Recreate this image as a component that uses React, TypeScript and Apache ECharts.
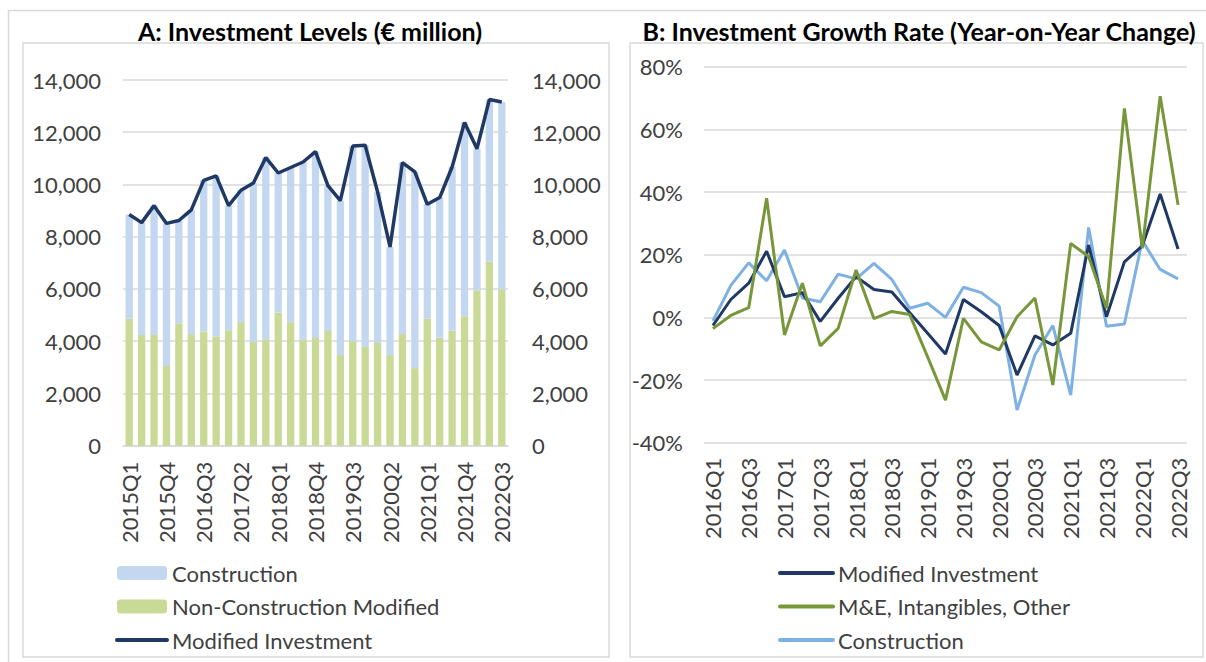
import React, { useEffect, useRef } from "react";
import * as echarts from "echarts";

const quartersA = [
  "2015Q1", "2015Q2", "2015Q3", "2015Q4",
  "2016Q1", "2016Q2", "2016Q3", "2016Q4",
  "2017Q1", "2017Q2", "2017Q3", "2017Q4",
  "2018Q1", "2018Q2", "2018Q3", "2018Q4",
  "2019Q1", "2019Q2", "2019Q3", "2019Q4",
  "2020Q1", "2020Q2", "2020Q3", "2020Q4",
  "2021Q1", "2021Q2", "2021Q3", "2021Q4",
  "2022Q1", "2022Q2", "2022Q3",
];

// € million
const nonConstruction = [
  4860, 4240, 4240, 3050, 4680, 4270, 4370, 4190, 4420, 4730, 3970, 4070,
  5100, 4730, 4040, 4120, 4390, 3470, 4000, 3790, 3930, 3470, 4280, 2970,
  4860, 4130, 4400, 4960, 5950, 7050, 5980,
];
const construction = [
  3990, 4300, 4950, 5460, 3940, 4760, 5790, 6140, 4770, 5050, 6090, 6960,
  5340, 5920, 6820, 7140, 5570, 5910, 7470, 7710, 5780, 4140, 6560, 7510,
  4380, 5370, 6270, 7410, 5420, 6200, 7180,
];
const modifiedInvestment = [
  8850, 8540, 9190, 8510, 8620, 9030, 10160, 10330, 9190, 9780, 10060, 11030,
  10440, 10650, 10860, 11260, 9960, 9380, 11470, 11500, 9710, 7610, 10840, 10480,
  9240, 9500, 10670, 12370, 11370, 13250, 13160,
];

const quartersB = [
  "2016Q1", "2016Q2", "2016Q3", "2016Q4",
  "2017Q1", "2017Q2", "2017Q3", "2017Q4",
  "2018Q1", "2018Q2", "2018Q3", "2018Q4",
  "2019Q1", "2019Q2", "2019Q3", "2019Q4",
  "2020Q1", "2020Q2", "2020Q3", "2020Q4",
  "2021Q1", "2021Q2", "2021Q3", "2021Q4",
  "2022Q1", "2022Q2", "2022Q3",
];

// % year-on-year
const modifiedGrowth = [
  -2.6, 5.7, 10.9, 21.1, 6.6, 7.9, -1.3, 6.1, 13.0, 8.9, 8.1, 1.5, -5.1, -11.7,
  5.7, 1.8, -2.6, -18.4, -5.9, -8.8, -5.1, 23.1, 0.2, 17.7, 22.8, 39.4, 21.8,
];
const meGrowth = [
  -3.6, 0.6, 3.1, 38.0, -5.6, 10.9, -9.1, -3.5, 15.1, -0.4, 1.9, 0.9, -12.6, -26.4,
  -0.3, -7.8, -10.4, 0.2, 6.2, -21.6, 23.6, 19.4, 2.9, 66.7, 22.0, 70.6, 35.9,
];
const constructionGrowth = [
  -1.1, 10.2, 17.4, 11.7, 21.5, 6.2, 5.0, 13.8, 12.3, 17.2, 12.1, 2.9, 4.5, 0.0,
  9.6, 7.9, 3.6, -29.6, -12.0, -2.6, -24.8, 28.7, -2.8, -2.1, 24.5, 15.3, 12.3,
];

const yTicksA = [0, 14000, 2000];
const yTicksB = [-40, 80, 20];

const FONT = "Lato";
const TEXT = "#404040";
const GRID = "#D9D9D9";
const NAVY = "#1F3864";
const OLIVE = "#77973A";
const LBLUE = "#7DB1E4";
const BAR_BLUE = "#C3D8F0";
const BAR_GREEN = "#C9DA96";
const FS = 22;

const fmtThousands = (v: number) => v.toLocaleString("en-US");
const noSymbol = { color: "rgba(0,0,0,0)", borderWidth: 0, borderColor: "rgba(0,0,0,0)" };

export default function App() {
  const ref = useRef<HTMLDivElement>(null);

  useEffect(() => {
    if (!ref.current) return;
    const chart = echarts.init(ref.current, null, { renderer: "svg" });

    const axisLabelBase = { color: TEXT, fontFamily: FONT, fontSize: FS };
    const legendText = { color: TEXT, fontFamily: FONT, fontSize: FS, lineHeight: 22 };

    const option: any = {
      animation: false,
      textStyle: { fontFamily: FONT },
      graphic: [
        {
          type: "polyline",
          shape: { points: [[8.5, 662], [8.5, 10.5], [1206, 10.5]] },
          style: { stroke: GRID, lineWidth: 1.5, fill: "none" },
          silent: true,
        },
        {
          type: "rect",
          shape: { x: 23, y: 43, width: 586, height: 614 },
          style: { stroke: GRID, lineWidth: 1.5, fill: "none" },
          silent: true,
        },
        {
          type: "rect",
          shape: { x: 630, y: 43, width: 573, height: 614 },
          style: { stroke: GRID, lineWidth: 1.5, fill: "none" },
          silent: true,
        },
        {
          type: "text",
          x: 310,
          y: 31,
          style: {
            text: "A: Investment Levels (€ million)",
            fontFamily: FONT,
            fontWeight: "bold",
            fontSize: 25,
            fill: "#000",
            align: "center",
            verticalAlign: "middle",
          },
        },
        {
          type: "text",
          x: 919,
          y: 31,
          style: {
            text: "B: Investment Growth Rate (Year-on-Year Change)",
            fontFamily: FONT,
            fontWeight: "bold",
            fontSize: 25,
            fill: "#000",
            align: "center",
            verticalAlign: "middle",
          },
        },
      ],
      legend: [
        {
          orient: "vertical",
          left: 115,
          top: 562,
          padding: 0,
          itemWidth: 50,
          itemHeight: 14,
          itemGap: 11.5,
          selectedMode: false,
          textStyle: legendText,
          lineStyle: { width: 4, cap: "round" },
          data: [
            "Construction",
            "Non-Construction Modified",
            { name: "Modified Investment", itemStyle: noSymbol },
          ],
        },
        {
          orient: "vertical",
          left: 778,
          top: 562,
          padding: 0,
          itemWidth: 53,
          itemHeight: 14,
          itemGap: 11.5,
          selectedMode: false,
          textStyle: legendText,
          lineStyle: { width: 4, cap: "round" },
          formatter: (n: string) => n.replace(/^B:/, ""),
          data: [
            { name: "B:Modified Investment", itemStyle: noSymbol },
            { name: "B:M&E, Intangibles, Other", itemStyle: noSymbol },
            { name: "B:Construction", itemStyle: noSymbol },
          ],
        },
      ],
      grid: [
        { left: 123, top: 80, width: 385, height: 365.7 },
        { left: 704, top: 66.7, width: 483, height: 376 },
      ],
      xAxis: [
        {
          type: "category",
          gridIndex: 0,
          data: quartersA,
          axisLine: { lineStyle: { color: GRID, width: 1.5 } },
          axisTick: { show: false },
          axisLabel: { ...axisLabelBase, rotate: 90, interval: 2, margin: 16 },
        },
        {
          type: "category",
          gridIndex: 1,
          data: quartersB,
          axisLine: { show: false },
          axisTick: { show: false },
          axisLabel: { ...axisLabelBase, rotate: 90, interval: 1, margin: 15 },
        },
      ],
      yAxis: [
        {
          type: "value",
          gridIndex: 0,
          min: yTicksA[0],
          max: yTicksA[1],
          interval: yTicksA[2],
          axisLine: { show: false },
          axisTick: { show: false },
          splitLine: { lineStyle: { color: GRID, width: 1.5 } },
          axisLabel: { ...axisLabelBase, margin: 22, formatter: fmtThousands },
        },
        {
          type: "value",
          gridIndex: 0,
          position: "right",
          min: yTicksA[0],
          max: yTicksA[1],
          interval: yTicksA[2],
          axisLine: { show: false },
          axisTick: { show: false },
          splitLine: { show: false },
          axisLabel: { ...axisLabelBase, margin: 24, formatter: fmtThousands },
        },
        {
          type: "value",
          gridIndex: 1,
          min: yTicksB[0],
          max: yTicksB[1],
          interval: yTicksB[2],
          axisLine: { show: false },
          axisTick: { show: false },
          splitLine: { lineStyle: { color: GRID, width: 1.5 } },
          axisLabel: { ...axisLabelBase, margin: 21, formatter: "{value}%" },
        },
      ],
      series: [
        {
          name: "Non-Construction Modified",
          type: "bar",
          xAxisIndex: 0,
          yAxisIndex: 0,
          stack: "inv",
          barWidth: 7.3,
          itemStyle: { color: BAR_GREEN },
          data: nonConstruction,
        },
        {
          name: "Construction",
          type: "bar",
          xAxisIndex: 0,
          yAxisIndex: 0,
          stack: "inv",
          barWidth: 7.3,
          itemStyle: { color: BAR_BLUE },
          data: construction,
        },
        {
          name: "Modified Investment",
          type: "line",
          xAxisIndex: 0,
          yAxisIndex: 0,
          symbol: "none",
          lineStyle: { color: NAVY, width: 3.5 },
          itemStyle: { color: NAVY },
          data: modifiedInvestment,
        },
        {
          name: "B:Modified Investment",
          type: "line",
          xAxisIndex: 1,
          yAxisIndex: 2,
          symbol: "none",
          lineStyle: { color: NAVY, width: 3 },
          itemStyle: { color: NAVY },
          data: modifiedGrowth,
        },
        {
          name: "B:M&E, Intangibles, Other",
          type: "line",
          xAxisIndex: 1,
          yAxisIndex: 2,
          symbol: "none",
          lineStyle: { color: OLIVE, width: 3 },
          itemStyle: { color: OLIVE },
          data: meGrowth,
        },
        {
          name: "B:Construction",
          type: "line",
          xAxisIndex: 1,
          yAxisIndex: 2,
          symbol: "none",
          lineStyle: { color: LBLUE, width: 3 },
          itemStyle: { color: LBLUE },
          data: constructionGrowth,
          z: 1,
        },
      ],
    };

    chart.setOption(option);
    return () => chart.dispose();
  }, []);

  return (
    <div
      ref={ref}
      style={{ position: "fixed", left: 0, top: 0, width: 1206, height: 662, background: "#fff" }}
    />
  );
}
